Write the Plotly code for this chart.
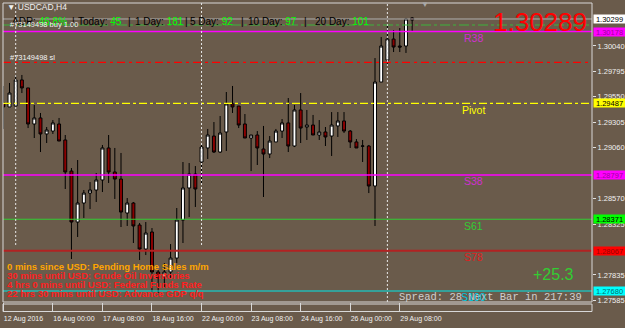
import plotly.graph_objects as go

# ---------------- data ----------------
full_days = ["15", "16", "17", "18", "19", "22", "23", "24", "25", "26"]
hours = ["00:00", "04:00", "08:00", "12:00", "16:00", "20:00"]
times = ["12 Aug 16:00", "12 Aug 20:00"] + [f"{d} Aug {h}" for d in full_days for h in hours] + \
        [f"29 Aug {h}" for h in hours[:5]]

opens = [1.29490, 1.29452, 1.29461, 1.29712, 1.29635, 1.29288, 1.29346, 1.29192, 1.29220, 1.29288,
         1.29134, 1.28835, 1.28344, 1.28527, 1.28623, 1.28652, 1.28749, 1.29057, 1.28826, 1.28758,
         1.28431, 1.28527, 1.28315, 1.28084, 1.28248, 1.27863, 1.27815, 1.27863, 1.27997, 1.28363,
         1.28672, 1.28806, 1.28922, 1.29057, 1.29172, 1.29018, 1.29211, 1.29481, 1.29461, 1.29288,
         1.29153, 1.29182, 1.29047, 1.28999, 1.29115, 1.29220, 1.29298, 1.29076, 1.29423, 1.29259,
         1.29278, 1.29182, 1.29211, 1.29172, 1.29269, 1.29317, 1.29220, 1.29115, 1.29076, 1.29076,
         1.28691, 1.29692, 1.29904, 1.30106, 1.30039, 1.30039, 1.30309]
highs = [1.29654, 1.29683, 1.29760, 1.29760, 1.29635, 1.29471, 1.29394, 1.29259, 1.29326, 1.29346,
         1.29182, 1.28864, 1.28941, 1.28652, 1.28729, 1.28816, 1.29086, 1.29182, 1.29057, 1.29009,
         1.28575, 1.28537, 1.28335, 1.28344, 1.28286, 1.27882, 1.27949, 1.28132, 1.28479, 1.28922,
         1.28912, 1.28883, 1.29086, 1.29240, 1.29307, 1.29365, 1.29596, 1.29654, 1.29461, 1.29384,
         1.29182, 1.29220, 1.29269, 1.29172, 1.29240, 1.29336, 1.29538, 1.29471, 1.29586, 1.29423,
         1.29375, 1.29326, 1.29259, 1.29403, 1.29403, 1.29403, 1.29230, 1.29143, 1.29134, 1.29086,
         1.29923, 1.30126, 1.30251, 1.30193, 1.30212, 1.30309, 1.30318]
lows = [1.29240, 1.29452, 1.29461, 1.29586, 1.29249, 1.29153, 1.29018, 1.29105, 1.29192, 1.29124,
        1.28662, 1.27988, 1.28200, 1.28383, 1.28469, 1.28537, 1.28633, 1.28720, 1.28566, 1.28296,
        1.28306, 1.28142, 1.27978, 1.28026, 1.27670, 1.27660, 1.27718, 1.27805, 1.27949, 1.28142,
        1.28392, 1.28489, 1.28710, 1.28951, 1.29009, 1.29009, 1.29028, 1.29394, 1.29249, 1.29153,
        1.28835, 1.28893, 1.28585, 1.28960, 1.29115, 1.29153, 1.29018, 1.29066, 1.29105, 1.29134,
        1.29182, 1.29134, 1.29076, 1.28980, 1.29163, 1.29201, 1.29057, 1.29057, 1.28922, 1.28623,
        1.28306, 1.29692, 1.29846, 1.29981, 1.29981, 1.29972, 1.30174]
closes = [1.29452, 1.29586, 1.29712, 1.29635, 1.29288, 1.29346, 1.29192, 1.29230, 1.29298, 1.29124,
          1.28826, 1.28344, 1.28527, 1.28623, 1.28652, 1.28749, 1.29057, 1.28826, 1.28758, 1.28440,
          1.28527, 1.28306, 1.28084, 1.28238, 1.27863, 1.27805, 1.27863, 1.27997, 1.28363, 1.28672,
          1.28806, 1.28662, 1.29066, 1.29182, 1.29018, 1.29201, 1.29481, 1.29452, 1.29278, 1.29153,
          1.29182, 1.29057, 1.28999, 1.29124, 1.29220, 1.29298, 1.29076, 1.29423, 1.29249, 1.29278,
          1.29182, 1.29211, 1.29163, 1.29278, 1.29317, 1.29220, 1.29115, 1.29057, 1.29075, 1.28691,
          1.29692, 1.30039, 1.30106, 1.30029, 1.30029, 1.30299, 1.30289]

tick_cats = ["12 Aug 16:00", "16 Aug 00:00", "17 Aug 08:00", "18 Aug 16:00", "22 Aug 00:00",
             "23 Aug 08:00", "24 Aug 16:00", "26 Aug 00:00", "29 Aug 08:00"]
tick_labels = ["12 Aug 2016", "16 Aug 00:00", "17 Aug 08:00", "18 Aug 16:00", "22 Aug 00:00",
               "23 Aug 08:00", "24 Aug 16:00", "26 Aug 00:00", "29 Aug 08:00"]
price_ticks = [1.30040, 1.29795, 1.29550, 1.29305, 1.29060, 1.28570, 1.28325, 1.27835, 1.27585]
separators = ["15 Aug 00:00", "22 Aug 00:00", "29 Aug 00:00"]

bid = 1.30299
last_price = "1.30289"
buy_level = 1.30241
sl_level = 1.29882
level_names = ["R38", "Pivot", "S38", "S61", "S78", "S100"]
level_values = [1.30178, 1.29487, 1.28797, 1.28371, 1.28067, 1.27680]
level_colors = ["#ff00ff", "#ffff00", "#ff00ff", "#32cd32", "#b22222", "#00e8e8"]
level_text_colors = ["#d030d0", "#ffff00", "#d030d0", "#32cd32", "#e02020", "#00c8e0"]

adr_items = [("ADR:", "46.8%"), ("Today:", "45"), ("1 Day:", "181"), ("5 Day:", "92"),
             ("10 Day:", "97"), ("20 Day:", "101")]
news = ["0 mins since USD: Pending Home Sales m/m",
        "30 mins until USD: Crude Oil Inventories",
        "4 hrs 0 mins until USD: Federal Funds Rate",
        "22 hrs 30 mins until USD: Advance GDP q/q"]
news_colors = ["#ffa500", "#ff2020", "#ff2020", "#ff2020"]

# ---------------- layout geometry ----------------
W, H = 625, 328
L, R, T, B = 3, 592, 3, 302
BG = "#6a5b4b"
SANS = "Liberation Sans, Arial, sans-serif"


def px(xp):
    return (xp - L) / (R - L)


def py(yp):
    return (B - yp) / (B - T)


fig = go.Figure()
fig.add_trace(go.Candlestick(
    x=times, open=opens, high=highs, low=lows, close=closes,
    increasing=dict(fillcolor="#ffffff", line=dict(color="#000000", width=1)),
    decreasing=dict(fillcolor="#8b0000", line=dict(color="#000000", width=1)),
    whiskerwidth=0, hoverinfo="skip",
))

shapes = []
hl = [(bid, "#b0b0b0", "solid", 1), (buy_level, "#3cb43c", "10px,3px,3px,3px", 1.2),
      (sl_level, "#ff0000", "8px,4px,3px,4px", 1.2)]
for v, c, d, w in hl:
    shapes.append(dict(type="line", xref="paper", yref="y", x0=0, x1=1, y0=v, y1=v,
                       line=dict(color=c, dash=d, width=w), layer="above"))
for name, v, c in zip(level_names, level_values, level_colors):
    d = "8px,3px,3px,3px" if name == "Pivot" else "solid"
    w = 2 if name == "S78" else (1.5 if c == "#ff00ff" else 1.2)
    shapes.append(dict(type="line", xref="paper", yref="y", x0=0, x1=1, y0=v, y1=v,
                       line=dict(color=c, dash=d, width=w), layer="above"))
for i, s in enumerate(separators):
    xi = times.index(s)
    shapes.append(dict(type="line", xref="x", yref="paper", x0=xi, x1=xi,
                       y0=py(245) if i < 2 else 0, y1=1,
                       line=dict(color="#e8e8e8", dash="2px,2px", width=1), layer="above"))
shapes.append(dict(type="rect", xref="paper", yref="paper", x0=0, x1=1, y0=0, y1=1,
                   line=dict(color="#d8d8d8", width=1)))
shapes.append(dict(type="rect", xref="paper", yref="paper", x0=0, x1=1, y0=py(304), y1=py(311.5),
                   line=dict(color="#d8d8d8", width=1)))

ann = []


def text(t, xp, yp, color, size, xanchor="left", family=SANS, yanchor="middle"):
    ann.append(dict(text=t, x=px(xp), y=py(yp), xref="paper", yref="paper", showarrow=False,
                    xanchor=xanchor, yanchor=yanchor, font=dict(color=color, size=size, family=family)))


text("▼ USDCAD,H4", 5, 7, "#f0f0f0", 8.5)
text("▼", 425, 5, "#a8a8a8", 8, xanchor="center")

adr_x = [10, 76, 133, 188, 246, 313]
sep_x = [70, 126, 183, 239, 302]
for (lab, val), xp in zip(adr_items, adr_x):
    text(f"{lab} <span style='color:#00ff00'>{val}</span>", xp, 21.5, "#000000", 10)
for xp in sep_x:
    text("|", xp, 21.5, "#000000", 10)

text("#73149498 buy 1.00", 8, 24.5, "#f4f4f4", 7.5)
text("#73149498 sl", 8, 57.5, "#f4f4f4", 7.5)
text(last_price, 589, 22.5, "#ff0000", 26, xanchor="right")
text("+25.3", 576, 274, "#32cd32", 16, xanchor="right")
text("Spread: 28 Next Bar in 217:39", 397, 296.5, "#cfcfcf", 10.5,
     family="Liberation Mono, Courier New, monospace")

for name, v, c in zip(level_names, level_values, level_text_colors):
    ann.append(dict(text=name, x=px(473), y=v, xref="paper", yref="y", yshift=-6.5,
                    showarrow=False, xanchor="center", yanchor="middle",
                    font=dict(color=c, size=10.5, family=SANS)))

for k, (t, c) in enumerate(zip(news, news_colors)):
    text(f"<b>{t}</b>", 5, 266 + k * 9.1, c, 9.5)

lab_list = [(bid, "#ffffff", "#000000")] + list(zip(level_values,
            ["#ff00ff", "#ffff00", "#ff00ff", "#00ff00", "#ff0000", "#00ffff"],
            ["#a000a0", "#000000", "#a000a0", "#000000", "#9a0000", "#007070"]))
for v, bgc, fgc in lab_list:
    ann.append(dict(text=f"{v:.5f}", x=1, y=v, xref="paper", yref="y", xanchor="left",
                    xshift=1, showarrow=False, bgcolor=bgc, width=31, height=8, borderpad=0,
                    font=dict(color=fgc, size=7.5, family=SANS)))

fig.update_layout(
    width=W, height=H, margin=dict(l=L, r=W - R, t=T, b=H - B, autoexpand=False),
    paper_bgcolor=BG, plot_bgcolor=BG, showlegend=False, boxgap=0.32,
    shapes=shapes, annotations=ann,
    xaxis=dict(type="category", range=[-0.05, 95.03], rangeslider=dict(visible=False),
               showgrid=False, zeroline=False, showline=False, automargin=False,
               tickmode="array", tickvals=[times.index(c) for c in tick_cats], ticktext=tick_labels,
               ticks="outside", ticklen=9, tickcolor="#d8d8d8", tickwidth=1, tickangle=0,
               ticklabelposition="outside right", ticklabelstandoff=10,
               tickfont=dict(color="#f0f0f0", size=7, family=SANS)),
    yaxis=dict(side="right", range=[1.27574, 1.30453], showgrid=False, zeroline=False,
               showline=False, automargin=False, tickmode="array", tickvals=price_ticks,
               tickformat=".5f", ticks="outside", ticklen=3, tickcolor="#e0e0e0",
               tickfont=dict(color="#f0f0f0", size=7.5, family=SANS)),
)

fig.write_html("out.html")
